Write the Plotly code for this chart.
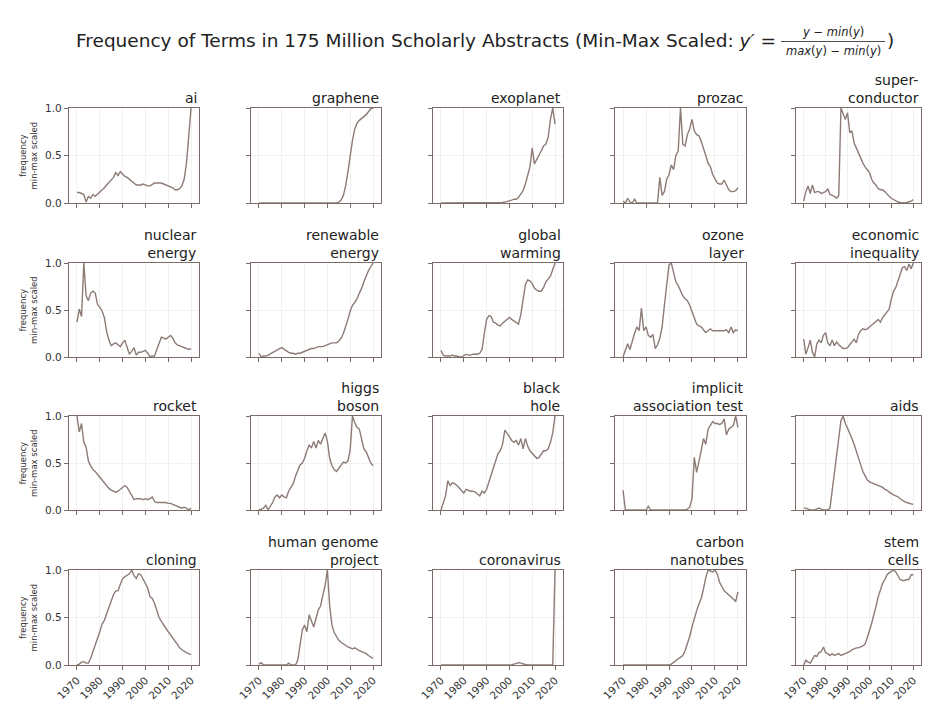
import plotly.graph_objects as go

years = list(range(1970, 2021))

ai = [0.11, 0.11, 0.10, 0.09, 0.01, 0.07, 0.05, 0.09, 0.07, 0.09,
      0.11, 0.13, 0.16, 0.19, 0.22, 0.25, 0.27, 0.32, 0.29, 0.33,
      0.30, 0.28, 0.27, 0.25, 0.23, 0.21, 0.19, 0.19, 0.19, 0.20,
      0.19, 0.18, 0.18, 0.20, 0.21, 0.21, 0.21, 0.21, 0.20, 0.19,
      0.18, 0.17, 0.16, 0.14, 0.14, 0.15, 0.18, 0.25, 0.42, 0.70,
      1.0]
graphene = [0, 0, 0, 0, 0, 0, 0, 0, 0, 0,
            0, 0, 0, 0, 0, 0, 0, 0, 0, 0,
            0, 0, 0, 0, 0, 0, 0, 0, 0, 0,
            0, 0, 0, 0, 0, 0.01, 0.03, 0.08, 0.18, 0.33,
            0.50, 0.66, 0.78, 0.84, 0.87, 0.89, 0.90, 0.93, 0.96, 0.99,
            1.0]
exoplanet = [0, 0, 0, 0, 0, 0, 0, 0, 0, 0,
             0, 0, 0, 0, 0, 0, 0, 0, 0, 0,
             0, 0, 0, 0, 0, 0, 0, 0.005, 0.01, 0.015,
             0.02, 0.03, 0.04, 0.04, 0.06, 0.09, 0.13, 0.20, 0.28, 0.38,
             0.58, 0.41, 0.46, 0.50, 0.55, 0.60, 0.62, 0.69, 0.88, 1.0,
             0.83]
prozac = [0.02, 0.0, 0.05, 0.01, 0.0, 0.04, 0.0, 0.0, 0.0, 0.0,
          0.0, 0.0, 0.0, 0.0, 0.0, 0.0, 0.27, 0.08, 0.12, 0.25,
          0.30, 0.40, 0.35, 0.50, 0.55, 1.0, 0.62, 0.60, 0.72, 0.78,
          0.88, 0.76, 0.72, 0.71, 0.65, 0.56, 0.50, 0.42, 0.38, 0.30,
          0.26, 0.21, 0.20, 0.20, 0.24, 0.18, 0.14, 0.12, 0.12, 0.13,
          0.16]
superconductor = [0.02, 0.12, 0.18, 0.10, 0.19, 0.11, 0.12, 0.12, 0.10, 0.11,
                  0.12, 0.15, 0.09, 0.08, 0.07, 0.05, 0.08, 1.0, 0.94, 0.88,
                  0.95, 0.74, 0.76, 0.63, 0.58, 0.52, 0.46, 0.42, 0.38, 0.35,
                  0.32, 0.25, 0.21, 0.19, 0.15, 0.14, 0.14, 0.12, 0.09, 0.07,
                  0.05, 0.035, 0.02, 0.01, 0.005, 0.0, 0.0, 0.005, 0.01, 0.02,
                  0.035]
nuclear_energy = [0.37, 0.51, 0.43, 1.0, 0.65, 0.60, 0.68, 0.70, 0.68, 0.56,
                  0.53, 0.49, 0.42, 0.27, 0.18, 0.12, 0.14, 0.15, 0.13, 0.11,
                  0.15, 0.18, 0.10, 0.03, 0.06, 0.10, 0.02, 0.05, 0.05, 0.06,
                  0.07, 0.04, 0.0, 0.01, 0.01, 0.08, 0.15, 0.21, 0.20, 0.19,
                  0.21, 0.23, 0.20, 0.15, 0.13, 0.12, 0.11, 0.10, 0.09, 0.08,
                  0.09]
renewable_energy = [0.04, 0.0, 0.01, 0.01, 0.02, 0.035, 0.05, 0.06, 0.08, 0.09,
                    0.10, 0.08, 0.06, 0.05, 0.04, 0.04, 0.03, 0.04, 0.04, 0.05,
                    0.06, 0.07, 0.08, 0.09, 0.09, 0.10, 0.11, 0.11, 0.11, 0.12,
                    0.13, 0.14, 0.15, 0.15, 0.15, 0.17, 0.20, 0.25, 0.32, 0.40,
                    0.49, 0.55, 0.58, 0.62, 0.68, 0.73, 0.80, 0.87, 0.92, 0.96,
                    1.0]
global_warming = [0.07, 0.02, 0.01, 0.01, 0.01, 0.02, 0.01, 0.01, 0.0, 0.0,
                  0.02, 0.03, 0.02, 0.02, 0.03, 0.03, 0.03, 0.04, 0.08, 0.25,
                  0.40, 0.44, 0.43, 0.37, 0.36, 0.34, 0.33, 0.36, 0.38, 0.40,
                  0.42, 0.40, 0.38, 0.36, 0.35, 0.45, 0.60, 0.77, 0.82, 0.81,
                  0.78, 0.73, 0.71, 0.70, 0.70, 0.74, 0.80, 0.83, 0.86, 0.93,
                  1.0]
ozone_layer = [0.0, 0.06, 0.14, 0.08, 0.18, 0.25, 0.32, 0.28, 0.52, 0.28,
               0.32, 0.23, 0.21, 0.24, 0.09, 0.13, 0.20, 0.32, 0.55, 0.75,
               0.98, 1.0, 0.90, 0.80, 0.76, 0.70, 0.65, 0.62, 0.60, 0.55,
               0.49, 0.42, 0.35, 0.33, 0.32, 0.29, 0.26, 0.28, 0.30, 0.28,
               0.28, 0.28, 0.28, 0.28, 0.28, 0.29, 0.26, 0.32, 0.26, 0.29,
               0.28]
economic_inequality = [0.19, 0.03, 0.10, 0.18, 0.05, 0.0, 0.14, 0.18, 0.15, 0.23,
                       0.26, 0.15, 0.12, 0.18, 0.12, 0.16, 0.13, 0.11, 0.09, 0.09,
                       0.10, 0.13, 0.16, 0.19, 0.15, 0.24, 0.28, 0.30, 0.29, 0.30,
                       0.32, 0.34, 0.37, 0.39, 0.40, 0.37, 0.42, 0.45, 0.48, 0.51,
                       0.62, 0.70, 0.74, 0.80, 0.88, 0.95, 0.96, 0.92, 0.99, 0.94,
                       1.0]
rocket = [1.0, 0.83, 0.92, 0.72, 0.67, 0.52, 0.47, 0.43, 0.41, 0.38,
          0.35, 0.32, 0.29, 0.25, 0.23, 0.21, 0.20, 0.19, 0.20, 0.22,
          0.25, 0.26, 0.24, 0.20, 0.16, 0.11, 0.12, 0.12, 0.12, 0.11,
          0.12, 0.11, 0.12, 0.14, 0.09, 0.08, 0.08, 0.08, 0.08, 0.08,
          0.07, 0.07, 0.06, 0.05, 0.04, 0.03, 0.02, 0.03, 0.02, 0.0,
          0.02]
higgs_boson = [0.0, 0.01, 0.02, 0.05, 0.0, 0.04, 0.08, 0.14, 0.16, 0.13,
               0.16, 0.14, 0.13, 0.20, 0.24, 0.28, 0.36, 0.42, 0.48, 0.50,
               0.55, 0.63, 0.69, 0.66, 0.73, 0.66, 0.74, 0.70, 0.76, 0.82,
               0.73, 0.55, 0.47, 0.43, 0.41, 0.44, 0.48, 0.51, 0.50, 0.52,
               0.64, 1.0, 0.93, 0.88, 0.86, 0.74, 0.65, 0.62, 0.55, 0.50,
               0.47]
black_hole = [0.0, 0.08, 0.15, 0.31, 0.26, 0.29, 0.28, 0.26, 0.23, 0.21,
              0.18, 0.22, 0.21, 0.20, 0.20, 0.19, 0.17, 0.15, 0.20, 0.18,
              0.22, 0.30, 0.38, 0.45, 0.52, 0.60, 0.63, 0.70, 0.85, 0.82,
              0.78, 0.74, 0.72, 0.74, 0.69, 0.76, 0.65, 0.76, 0.68, 0.63,
              0.60, 0.57, 0.55, 0.56, 0.60, 0.63, 0.63, 0.65, 0.72, 0.82,
              1.0]
implicit_association_test = [0.21, 0.0, 0.0, 0.0, 0.0, 0.0, 0.0, 0.0, 0.0, 0.0,
                             0.0, 0.04, 0.0, 0.0, 0.0, 0.0, 0.0, 0.0, 0.0, 0.0,
                             0.0, 0.0, 0.0, 0.0, 0.0, 0.0, 0.0, 0.0, 0.01, 0.03,
                             0.12, 0.56, 0.40, 0.50, 0.63, 0.76, 0.70, 0.86, 0.90, 0.94,
                             0.92, 0.92, 0.91, 0.92, 0.97, 0.80, 0.86, 0.88, 0.90, 1.0,
                             0.88]
aids = [0.02, 0.02, 0.01, 0.0, 0.0, 0.0, 0.01, 0.02, 0.01, 0.0,
        0.0, 0.0, 0.02, 0.20, 0.40, 0.60, 0.80, 0.95, 1.0, 0.92,
        0.87, 0.82, 0.76, 0.70, 0.62, 0.56, 0.48, 0.41, 0.36, 0.32,
        0.30, 0.29, 0.28, 0.27, 0.26, 0.25, 0.24, 0.22, 0.21, 0.19,
        0.17, 0.16, 0.15, 0.14, 0.12, 0.10, 0.09, 0.08, 0.07, 0.065,
        0.06]
cloning = [0.0, 0.01, 0.03, 0.035, 0.02, 0.02, 0.07, 0.14, 0.20, 0.26,
           0.35, 0.43, 0.47, 0.54, 0.61, 0.67, 0.74, 0.78, 0.78, 0.85,
           0.91, 0.93, 0.95, 0.96, 1.0, 0.94, 0.91, 0.96, 0.95, 0.90,
           0.86, 0.81, 0.72, 0.70, 0.65, 0.56, 0.50, 0.46, 0.42, 0.38,
           0.35, 0.32, 0.28, 0.25, 0.22, 0.18, 0.16, 0.14, 0.13, 0.12,
           0.11]
human_genome_project = [0.01, 0.025, 0.0, 0.0, 0.0, 0.0, 0.0, 0.0, 0.0, 0.0,
                        0.0, 0.0, 0.0, 0.02, 0.0, 0.0, 0.0, 0.05, 0.19, 0.37,
                        0.42, 0.35, 0.53, 0.46, 0.40, 0.49, 0.58, 0.62, 0.72, 0.84,
                        1.0, 0.62, 0.42, 0.34, 0.30, 0.26, 0.24, 0.22, 0.20, 0.19,
                        0.18, 0.17, 0.18, 0.16, 0.15, 0.14, 0.13, 0.12, 0.10, 0.08,
                        0.07]
coronavirus = [0.0, 0.0, 0.0, 0.0, 0.0, 0.0, 0.0, 0.0, 0.0, 0.0,
               0.005, 0.005, 0.005, 0.005, 0.005, 0.005, 0.005, 0.005, 0.005, 0.005,
               0.004, 0.004, 0.004, 0.004, 0.004, 0.003, 0.003, 0.003, 0.003, 0.003,
               0.0, 0.0, 0.01, 0.02, 0.025, 0.02, 0.01, 0.005, 0.0, 0.0,
               0.0, 0.0, 0.0, 0.0, 0.0, 0.0, 0.0, 0.0, 0.0, 0.0,
               1.0]
carbon_nanotubes = [0, 0, 0, 0, 0, 0, 0, 0, 0, 0,
                    0, 0, 0, 0, 0, 0, 0, 0, 0, 0,
                    0.0, 0.01, 0.03, 0.05, 0.06, 0.08, 0.10, 0.15, 0.22, 0.30,
                    0.40, 0.50, 0.57, 0.64, 0.70, 0.80, 0.92, 1.0, 0.99, 0.98,
                    1.0, 0.96, 0.87, 0.82, 0.78, 0.76, 0.74, 0.72, 0.70, 0.67,
                    0.77]
stem_cells = [0.0, 0.05, 0.03, 0.02, 0.06, 0.10, 0.09, 0.13, 0.14, 0.19,
              0.13, 0.12, 0.10, 0.12, 0.10, 0.11, 0.12, 0.10, 0.11, 0.12,
              0.13, 0.14, 0.16, 0.17, 0.18, 0.18, 0.19, 0.20, 0.22, 0.28,
              0.36, 0.44, 0.52, 0.62, 0.72, 0.80, 0.86, 0.90, 0.95, 0.97,
              0.99, 1.0, 0.98, 0.94, 0.90, 0.89, 0.89, 0.90, 0.90, 0.95,
              0.95]

titles = ["ai", "graphene", "exoplanet", "prozac", "super-<br>conductor",
          "nuclear<br>energy", "renewable<br>energy", "global<br>warming", "ozone<br>layer", "economic<br>inequality",
          "rocket", "higgs<br>boson", "black<br>hole", "implicit<br>association test", "aids",
          "cloning", "human genome<br>project", "coronavirus", "carbon<br>nanotubes", "stem<br>cells"]
series = [ai, graphene, exoplanet, prozac, superconductor,
          nuclear_energy, renewable_energy, global_warming, ozone_layer, economic_inequality,
          rocket, higgs_boson, black_hole, implicit_association_test, aids,
          cloning, human_genome_project, coronavirus, carbon_nanotubes, stem_cells]
x_tick_years = [1970, 1980, 1990, 2000, 2010, 2020]
y_tick_vals = [0.0, 0.5, 1.0]
y_tick_text = ["0.0", "0.5", "1.0"]

for name, s in zip(titles, series):
    if len(s) != len(years):
        raise ValueError(f"{name}: {len(s)}")

# ---- layout geometry (pixels) ----
W, H = 928, 706
col_left = [69, 251, 433, 615, 796]
col_right = [199, 381, 563, 746, 921]
row_top = [108, 263, 416, 570]
row_bot = [203, 357, 510, 665]

LINE = "#8d7b76"
FRAME = "#7b6b66"
FONT = "DejaVu Sans"

fig = go.Figure()
layout = dict(
    width=W, height=H,
    margin=dict(l=0, r=0, t=0, b=0),
    paper_bgcolor="white", plot_bgcolor="white",
    showlegend=False,
    font=dict(family=FONT, color="#222"),
)
annotations = []
for i, (t, s) in enumerate(zip(titles, series)):
    r, c = divmod(i, 5)
    k = i + 1
    xa = "x" if k == 1 else f"x{k}"
    ya = "y" if k == 1 else f"y{k}"
    fig.add_trace(go.Scatter(x=years, y=s, mode="lines", xaxis=xa, yaxis=ya,
                             line=dict(color=LINE, width=1.4), hoverinfo="skip"))
    layout["xaxis" if k == 1 else f"xaxis{k}"] = dict(
        domain=[col_left[c] / W, col_right[c] / W], anchor=ya,
        range=[1966.5, 2023.5], tickvals=x_tick_years,
        showticklabels=(r == 3), tickangle=-45, automargin=False,
        tickfont=dict(size=10.5, color="#333", family=FONT),
        ticks="outside", ticklen=4, tickwidth=1, tickcolor=FRAME,
        showline=True, mirror=True, linecolor=FRAME, linewidth=1.2,
        showgrid=True, gridcolor="#f1f1f1", gridwidth=1, zeroline=False,
    )
    layout["yaxis" if k == 1 else f"yaxis{k}"] = dict(
        domain=[1 - row_bot[r] / H, 1 - row_top[r] / H], anchor=xa,
        range=[0, 1], tickvals=y_tick_vals, ticktext=y_tick_text,
        showticklabels=(c == 0), automargin=False,
        tickfont=dict(size=10.5, color="#333", family=FONT),
        ticks="outside", ticklen=4, tickwidth=1, tickcolor=FRAME,
        showline=True, mirror=True, linecolor=FRAME, linewidth=1.2,
        showgrid=True, gridcolor="#f1f1f1", gridwidth=1, zeroline=False,
    )
    annotations.append(dict(
        text=t, xref="paper", yref="paper",
        x=col_right[c] / W, y=1 - row_top[r] / H,
        xanchor="right", yanchor="bottom", align="right", showarrow=False,
        font=dict(size=14, color="#222", family=FONT), yshift=0,
    ))
    if c == 0:
        annotations.append(dict(
            text="frequency<br>min-max scaled", xref="paper", yref="paper",
            x=28 / W, y=1 - (row_top[r] + row_bot[r]) / 2 / H,
            xanchor="center", yanchor="middle", textangle=-90, showarrow=False,
            font=dict(size=8.5, color="#333", family=FONT),
        ))

# main title with fraction
annotations.append(dict(
    text="Frequency of Terms in 175 Million Scholarly Abstracts (Min-Max Scaled: <i>y′</i> =",
    xref="paper", yref="paper", x=778 / W, y=1 - 41 / H,
    xanchor="right", yanchor="middle", showarrow=False,
    font=dict(size=18.5, color="#222", family=FONT),
))
annotations.append(dict(
    text="<i>y</i> − <i>min</i>(<i>y</i>)", xref="paper", yref="paper",
    x=833 / W, y=1 - 32 / H, xanchor="center", yanchor="middle", showarrow=False,
    font=dict(size=11.5, color="#222", family=FONT),
))
annotations.append(dict(
    text="<i>max</i>(<i>y</i>) − <i>min</i>(<i>y</i>)", xref="paper", yref="paper",
    x=833 / W, y=1 - 51 / H, xanchor="center", yanchor="middle", showarrow=False,
    font=dict(size=11.5, color="#222", family=FONT),
))
annotations.append(dict(
    text=")", xref="paper", yref="paper",
    x=885 / W, y=1 - 41 / H, xanchor="left", yanchor="middle", showarrow=False,
    font=dict(size=18.5, color="#222", family=FONT),
))
layout["annotations"] = annotations
layout["shapes"] = [dict(type="line", xref="paper", yref="paper",
                         x0=781 / W, x1=885 / W, y0=1 - 41.5 / H, y1=1 - 41.5 / H,
                         line=dict(color="#222", width=0.8))]
fig.update_layout(**layout)
fig.write_html(
    "out.html",
    config={"displayModeBar": False},
    post_script="document.body.style.margin='0';document.body.style.overflow='hidden';",
)
